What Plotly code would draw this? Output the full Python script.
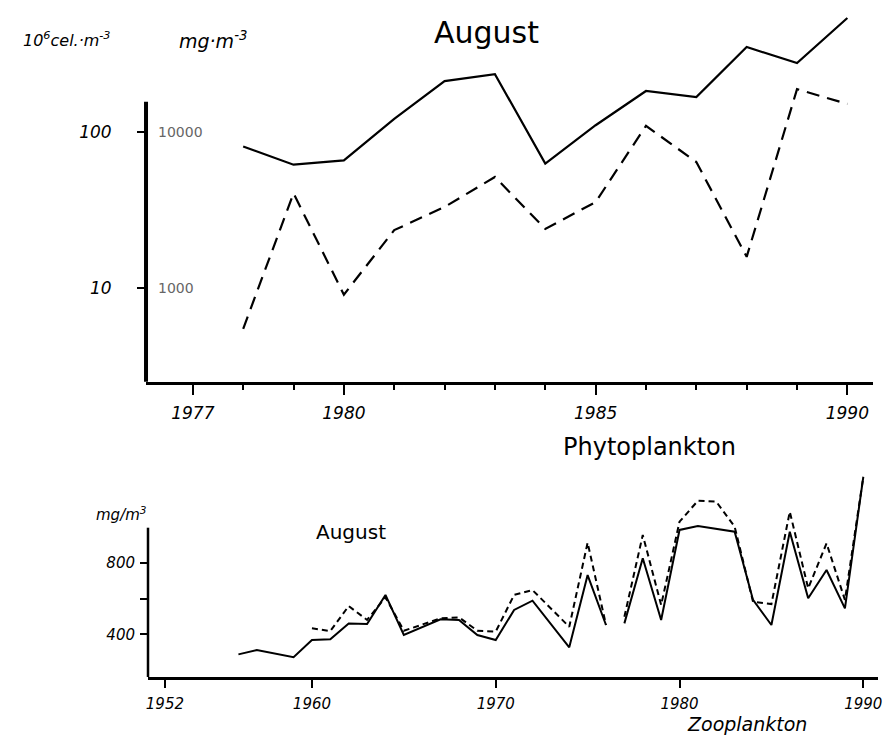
import math
import plotly.graph_objects as go

# ---------------- data ----------------
# Top panel: Phytoplankton, August (log scale)
top_years = [1978, 1979, 1980, 1981, 1982, 1983, 1984, 1985, 1986, 1987, 1988, 1989, 1990]
top_solid = [81, 62, 66, 122, 213, 236, 63, 111, 184, 168, 352, 278, 540]
top_dashed = [5.5, 40.6, 9.1, 23.6, 33.2, 51.7, 24.0, 35.7, 110, 64.5, 15.9, 189, 152]
top_tickvals_x = [1977, 1980, 1985, 1990]
top_ticktext_x = ["1977", "1980", "1985", "1990"]
top_tickvals_y = [10, 100]
top_ticktext_y = ["10", "100"]
top_right_labels = ["1000", "10000"]

# Bottom panel: Zooplankton, August (mg/m3) - two segments (gap 1976-1977)
zoo_years_1 = [1956, 1957, 1959, 1960, 1961, 1962, 1963, 1964, 1965, 1967, 1968, 1969,
               1970, 1971, 1972, 1974, 1975, 1976]
zoo_solid_1 = [288, 312, 272, 368, 372, 461, 458, 620, 396, 484, 480, 396,
               368, 536, 588, 327, 731, 452]
zoo_dashed_1 = [None, None, None, 434, 418, 558, 480, 607, 420, 489, 495, 420,
                415, 620, 647, 442, 912, 452]
zoo_years_2 = [1977, 1978, 1979, 1980, 1981, 1982, 1983, 1984, 1985, 1986, 1987, 1988,
               1989, 1990]
zoo_solid_2 = [461, 825, 480, 983, 1005, 990, 973, 592, 452, 973, 601, 759, 545, 1280]
zoo_dashed_2 = [498, 955, 564, 1029, 1146, 1141, 1001, 582, 569, 1085, 657, 908, 592, 1280]
bot_tickvals_x = [1952, 1960, 1970, 1980, 1990]
bot_ticktext_x = ["1952", "1960", "1970", "1980", "1990"]
bot_tickvals_y = [400, 600, 800]
bot_ticktext_y = ["400", "", "800"]

# ---------------- figure ----------------
W, H = 884, 738
def fx(p):
    return p / W
def fy(p):
    return 1 - p / H

FONT = "DejaVu Sans, sans-serif"
fig = go.Figure()

fig.add_trace(go.Scatter(x=top_years, y=top_solid, mode="lines",
                         line=dict(color="black", width=2.2), xaxis="x", yaxis="y"))
fig.add_trace(go.Scatter(x=top_years, y=top_dashed, mode="lines",
                         line=dict(color="black", width=2.2, dash="13px,8px"),
                         xaxis="x", yaxis="y"))

for yrs, vals, dash in [(zoo_years_1, zoo_solid_1, "solid"), (zoo_years_1, zoo_dashed_1, "6px,4px"),
                        (zoo_years_2, zoo_solid_2, "solid"), (zoo_years_2, zoo_dashed_2, "6px,4px")]:
    fig.add_trace(go.Scatter(x=yrs, y=vals, mode="lines",
                             line=dict(color="black", width=2, dash=dash),
                             xaxis="x2", yaxis="y2"))

tick_font_top = dict(family=FONT, size=17, color="black", style="italic")
tick_font_bot = dict(family=FONT, size=15, color="black", style="italic")

fig.update_layout(
    width=W, height=H, margin=dict(l=0, r=0, t=0, b=0),
    paper_bgcolor="white", plot_bgcolor="white", showlegend=False,
    xaxis=dict(domain=[fx(145), fx(877)], range=[1976.07, 1990.51], anchor="y",
               tickmode="array", tickvals=top_tickvals_x, ticktext=top_ticktext_x,
               ticks="outside", ticklen=10, tickwidth=2, tickcolor="black",
               minor=dict(tick0=1977, dtick=1, ticks="outside", ticklen=5, tickwidth=1.5,
                          tickcolor="black", showgrid=False),
               showline=True, linewidth=3, linecolor="black", showgrid=False, zeroline=False,
               tickfont=tick_font_top, ticklabelstandoff=4, ticklabeloverflow="allow"),
    yaxis=dict(domain=[fy(381.7), fy(10)], type="log", range=[0.401, 2.784], anchor="x",
               tickmode="array", tickvals=top_tickvals_y, ticktext=top_ticktext_y,
               ticks="outside", ticklen=8, tickwidth=2, tickcolor="black",
               showline=False, showgrid=False, zeroline=False,
               tickfont=tick_font_top, ticklabelstandoff=22),
    xaxis2=dict(domain=[fx(147), fx(882)], range=[1951.08, 1990.8], anchor="y2",
                tickmode="array", tickvals=bot_tickvals_x, ticktext=bot_ticktext_x,
                ticks="outside", ticklen=8, tickwidth=2, tickcolor="black",
                showline=True, linewidth=2.5, linecolor="black", showgrid=False, zeroline=False,
                tickfont=tick_font_bot, ticklabelstandoff=3, ticklabeloverflow="allow"),
    yaxis2=dict(domain=[fy(677), fy(460)], range=[161.5, 1373.7], anchor="x2",
                tickmode="array", tickvals=bot_tickvals_y, ticktext=bot_ticktext_y,
                ticks="outside", ticklen=7, tickwidth=2, tickcolor="black",
                showline=False, showgrid=False, zeroline=False,
                tickfont=tick_font_bot, ticklabelstandoff=2),
)

# vertical axis lines (shorter than the plotting area, as in the original)
fig.add_shape(type="line", xref="x domain", yref="y domain", x0=0, x1=0, y0=0, y1=0.753,
              line=dict(color="black", width=4))
fig.add_shape(type="line", xref="x2 domain", yref="y2 domain", x0=0, x1=0, y0=0, y1=0.688,
              line=dict(color="black", width=2.5))

# secondary scale labels right of the top y-axis
for val, lab in zip(top_tickvals_y, top_right_labels):
    fig.add_annotation(text=lab, xref="x domain", yref="y", x=0, y=math.log10(val),
                       xanchor="left", yanchor="middle", xshift=10, showarrow=False,
                       font=dict(family=FONT, size=14, color="#666"))

def add_text(text, x, y, size, italic=False, anchor="center"):
    fig.add_annotation(text=text, xref="paper", yref="paper", x=fx(x), y=fy(y),
                       xanchor=anchor, yanchor="middle", showarrow=False,
                       font=dict(family=FONT, size=size, color="black",
                                 style="italic" if italic else "normal"))

add_text("10<sup>6</sup>cel.·m<sup>-3</sup>", 65, 40, 16, italic=True)
add_text("mg·m<sup>-3</sup>", 212, 40, 19, italic=True)
add_text("August", 488, 32, 30)
add_text("Phytoplankton", 652, 447, 24)
add_text("mg/m<sup>3</sup>", 120, 514, 15, italic=True)
add_text("August", 351, 532, 20)
add_text("Zooplankton", 750, 724, 19, italic=True)

fig.write_html("out.html", config={"displayModeBar": False},
               post_script="document.body.style.margin='0';document.body.style.overflow='hidden';")
